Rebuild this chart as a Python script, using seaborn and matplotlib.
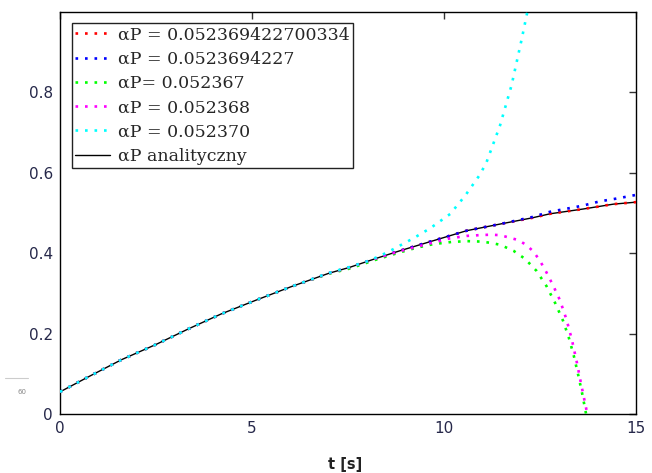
import numpy as np
import pandas as pd
import matplotlib
matplotlib.use('Agg')
import matplotlib.pyplot as plt
import seaborn as sns
from matplotlib.lines import Line2D

# czas [s] i wartosci alfa P
t_anal = [0.0, 0.75, 1.6, 2.5, 3.35, 4.2, 5.1, 6.0, 7.0, 7.55, 8.2, 8.85, 9.72,
          10.59, 11.46, 12.3, 12.76, 13.63, 14.41, 15.0]
p_anal = [0.055, 0.093, 0.135, 0.173, 0.212, 0.249, 0.283, 0.316, 0.350, 0.365, 0.386, 0.406, 0.431,
          0.456, 0.4725, 0.488, 0.498, 0.510, 0.522, 0.527]

t_red = t_anal
p_red = p_anal

t_blue = [0.0, 0.75, 1.6, 2.5, 3.35, 4.2, 5.1, 6.0, 7.0, 7.55, 8.2, 8.85, 9.72,
          10.59, 11.46, 12.3, 12.76, 13.6, 14.06, 14.5, 15.0]
p_blue = [0.055, 0.093, 0.135, 0.173, 0.212, 0.249, 0.283, 0.316, 0.350, 0.365, 0.386, 0.406, 0.431,
          0.456, 0.4725, 0.490, 0.503, 0.518, 0.529, 0.536, 0.545]

t_green = [0.0, 0.75, 1.6, 2.5, 3.35, 4.2, 5.1, 6.0, 7.0, 7.55, 8.2, 8.85, 9.3, 9.72, 10.2, 10.6,
           10.94, 11.2, 11.46, 11.81, 12.11, 12.41, 12.67, 12.9, 13.1, 13.25, 13.38, 13.5, 13.6,
           13.68, 13.72]
p_green = [0.055, 0.093, 0.135, 0.173, 0.212, 0.249, 0.283, 0.316, 0.349, 0.362, 0.383, 0.402, 0.414,
           0.4225, 0.428, 0.430, 0.429, 0.426, 0.421, 0.406, 0.386, 0.356, 0.318, 0.275, 0.232, 0.190,
           0.145, 0.095, 0.050, 0.010, -0.01]

t_magenta = [0.0, 0.75, 1.6, 2.5, 3.35, 4.2, 5.1, 6.0, 7.0, 7.55, 8.2, 8.85, 9.5, 10.16, 10.59,
             10.94, 11.2, 11.46, 11.94, 12.15, 12.33, 12.5, 12.67, 12.85, 13.02, 13.19, 13.33,
             13.46, 13.58, 13.7, 13.75]
p_magenta = [0.055, 0.093, 0.135, 0.173, 0.212, 0.249, 0.283, 0.316, 0.350, 0.365, 0.386, 0.405, 0.421,
             0.437, 0.443, 0.445, 0.446, 0.445, 0.4325, 0.420, 0.404, 0.381, 0.352, 0.318, 0.283,
             0.235, 0.185, 0.128, 0.070, 0.015, -0.01]

t_cyan = [0.0, 0.75, 1.6, 2.5, 3.35, 4.2, 5.1, 6.0, 7.0, 7.55, 8.0, 8.33, 8.68, 9.2, 9.64, 10.16,
          10.55, 10.94, 11.11, 11.46, 11.76, 12.02, 12.17, 12.3]
p_cyan = [0.055, 0.093, 0.135, 0.173, 0.212, 0.249, 0.283, 0.316, 0.351, 0.366, 0.380, 0.393, 0.410,
          0.437, 0.462, 0.4975, 0.543, 0.596, 0.627, 0.718, 0.818, 0.931, 1.0, 1.06]

serie = [
    ('αP = 0.052369422700334', t_red, p_red, '#ff0000'),
    ('αP = 0.0523694227', t_blue, p_blue, '#0000ff'),
    ('αP= 0.052367', t_green, p_green, '#00ff00'),
    ('αP = 0.052368', t_magenta, p_magenta, '#ff00ff'),
    ('αP = 0.052370', t_cyan, p_cyan, '#00ffff'),
]

x_ticks = [0, 5, 10, 15]
y_ticks = [0, 0.2, 0.4, 0.6, 0.8]
y_labels = ['0', '0.2', '0.4', '0.6', '0.8']

sns.set_style('white')
plt.rcParams['font.family'] = ['DejaVu Sans']

fig = plt.figure(figsize=(6.52, 4.73), dpi=100)
ax = fig.add_axes([60 / 652, 59 / 473, 576 / 652, 402 / 473])

# linia analityczna
df_a = pd.DataFrame({'t': t_anal, 'p': p_anal})
sns.lineplot(data=df_a, x='t', y='p', ax=ax, color='black', linewidth=1.0, zorder=2, legend=False)

dot = (0, (1, 2.6))
for nazwa, tt, pp, kol in serie:
    df = pd.DataFrame({'t': tt, 'p': pp})
    sns.lineplot(data=df, x='t', y='p', ax=ax, color=kol, linewidth=1.9,
                 linestyle=dot, zorder=3, legend=False)

ax.set_xlim(0, 15)
ax.set_ylim(0, 1.0)
ax.set_xticks(x_ticks)
ax.set_xticklabels([str(v) for v in x_ticks])
ax.set_yticks(y_ticks)
ax.set_yticklabels(y_labels)
ax.tick_params(direction='in', length=5, width=1, top=True, right=True,
               labelsize=11, pad=5, colors='#333333')
ax.tick_params(axis='both', labelcolor='#26284a')
for s in ax.spines.values():
    s.set_color('black')
    s.set_linewidth(1.0)
ax.set_ylabel('')
ax.set_xlabel('t [s]', fontsize=10.5, fontweight='bold', color='#222222')
ax.xaxis.set_label_coords(0.495, -0.108)

uchwyty = [Line2D([0], [0], color=k, linewidth=1.9, linestyle=dot) for _, _, _, k in serie]
uchwyty.append(Line2D([0], [0], color='black', linewidth=1.0))
opisy = [n for n, _, _, _ in serie] + ['αP analityczny']
leg = ax.legend(uchwyty, opisy, loc='upper left', bbox_to_anchor=(0.02, 0.973),
                borderaxespad=0, frameon=True, fancybox=False, edgecolor='#222222',
                prop={'family': 'DejaVu Serif', 'size': 12.5}, labelspacing=0.42,
                handlelength=2.0, handletextpad=0.45, borderpad=0.2)
leg.get_frame().set_linewidth(1.0)
leg.get_frame().set_facecolor('white')
leg.get_frame().set_alpha(1)

# drobny napis na marginesie
fig.text(22 / 652, 1 - 392 / 473, '60', fontsize=5, color='#888888', ha='center', va='center')
fig.add_artist(Line2D([5 / 652, 28 / 652], [1 - 378 / 473, 1 - 378 / 473], color='#cccccc', linewidth=0.8))

fig.savefig('out.png', dpi=100)
